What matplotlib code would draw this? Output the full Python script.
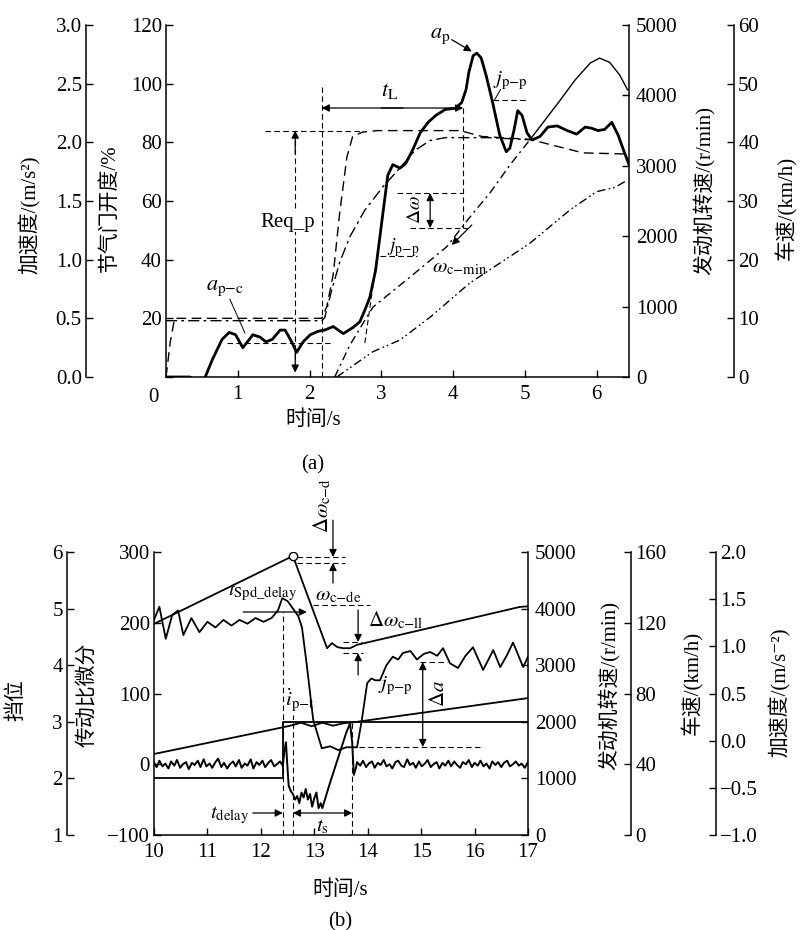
import numpy as np
import matplotlib.pyplot as plt

plt.rcParams['font.family'] = ['Liberation Serif', 'Noto Sans CJK SC', 'DejaVu Sans']
plt.rcParams['mathtext.fontset'] = 'stix'
plt.rcParams['axes.linewidth'] = 1.1

W, H = 801, 930

# ---------------- (a) launch ----------------
acc_a_t = [0.00, 0.33, 0.43, 0.54, 0.64, 0.78, 0.88, 0.97, 1.07, 1.16, 1.21, 1.31, 1.39, 1.48,
           1.59, 1.66, 1.75, 1.82, 1.91, 2.01, 2.12, 2.21, 2.33, 2.47, 2.60, 2.70, 2.77, 2.84,
           2.92, 3.01, 3.09, 3.16, 3.26, 3.34, 3.44, 3.54, 3.65, 3.76, 3.89, 4.03, 4.12, 4.18,
           4.22, 4.28, 4.33, 4.39, 4.46, 4.55, 4.65, 4.74, 4.79, 4.85, 4.90, 4.96, 5.03, 5.10,
           5.21, 5.32, 5.45, 5.59, 5.72, 5.84, 5.93, 6.02, 6.11, 6.21, 6.30, 6.37, 6.45]
acc_a = [0.00, 0.00, -0.03, -0.01, 0.14, 0.32, 0.38, 0.36, 0.25, 0.32, 0.36, 0.34, 0.30, 0.32,
         0.40, 0.40, 0.30, 0.21, 0.30, 0.36, 0.39, 0.40, 0.43, 0.37, 0.42, 0.47, 0.57, 0.68,
         0.91, 1.34, 1.72, 1.81, 1.78, 1.82, 1.94, 2.08, 2.17, 2.23, 2.28, 2.29, 2.34, 2.45,
         2.60, 2.74, 2.76, 2.72, 2.57, 2.34, 2.06, 1.92, 1.95, 2.11, 2.27, 2.23, 2.08, 2.02,
         2.05, 2.13, 2.14, 2.10, 2.07, 2.13, 2.12, 2.10, 2.11, 2.17, 2.06, 1.94, 1.81]

thr_t = [0.00, 0.06, 0.12, 2.17, 2.24, 2.33, 2.42, 2.52, 2.60, 2.74, 2.94, 4.10, 4.40, 5.07, 5.81, 6.45]
thr = [0, 12, 20, 20, 24, 35, 56, 75, 82, 83.5, 84, 84, 82, 81, 76.4, 76]

eng_a_t = [0.00, 2.17, 2.21, 2.31, 2.42, 2.56, 2.77, 3.02, 3.26, 3.47, 3.68, 3.89, 4.50, 5.07]
eng_a = [800, 800, 840, 1240, 1630, 1990, 2370, 2700, 2970, 3220, 3360, 3400, 3400, 3370]

clu_t = [2.35, 2.56, 2.88, 3.40, 3.91, 4.28, 4.51, 4.79, 5.07]
clu = [0, 450, 990, 1420, 1850, 2330, 2610, 3010, 3370]
syn_t = [5.07, 5.28, 5.49, 5.70, 5.91, 6.04, 6.18, 6.32, 6.43]
syn = [3370, 3650, 3930, 4220, 4460, 4530, 4470, 4290, 4080]

veh_a_t = [2.38, 2.88, 3.26, 3.68, 4.23, 5.07, 5.63, 6.00, 6.25, 6.42]
veh_a = [0, 4.3, 6.3, 10.2, 16.0, 22.8, 28.5, 31.6, 32.3, 33.5]

# ---------------- (b) upshift ----------------
eng_b_t = [10.0, 12.60, 13.24, 13.33, 13.43, 13.54, 13.67, 13.80, 16.85, 17.0]
eng_b = [3730, 4930, 3300, 3390, 3320, 3300, 3300, 3360, 4030, 4040]

veh_b_t = [10.0, 12.35, 12.55, 12.75, 12.95, 13.15, 13.35, 13.55, 13.75, 17.0]
veh_b = [45.8, 60.5, 61.8, 63.5, 61.5, 63.5, 61.8, 63.2, 63.8, 77.4]

gear_t = [10.0, 12.42, 12.42, 17.0]
gear = [2, 2, 3, 3]

acc_b_t = [10.00, 10.10, 10.22, 10.34, 10.45, 10.55, 10.70, 10.85, 11.00, 11.15, 11.30, 11.45,
           11.60, 11.75, 11.90, 12.05, 12.20, 12.32, 12.40, 12.50, 12.60, 12.70, 12.77, 12.86,
           12.98, 13.14, 13.30, 13.45, 13.60, 13.72, 13.80, 13.89, 13.99, 14.07, 14.14, 14.23,
           14.35, 14.47, 14.57, 14.66, 14.80, 14.92, 15.05, 15.17, 15.30, 15.41, 15.54, 15.69,
           15.83, 15.97, 16.16, 16.35, 16.48, 16.60, 16.72, 16.91, 17.00]
acc_b = [1.28, 1.42, 1.08, 1.33, 1.38, 1.12, 1.30, 1.15, 1.26, 1.20, 1.28, 1.22,
         1.28, 1.24, 1.30, 1.26, 1.30, 1.38, 1.51, 1.48, 1.40, 1.32, 1.20, 0.80,
         0.22, -0.08, -0.06, -0.10, -0.07, -0.07, -0.07, 0.22, 0.61, 0.66, 0.64, 0.64,
         0.80, 0.89, 0.86, 0.93, 0.95, 0.86, 0.92, 0.94, 0.90, 0.98, 0.82, 0.77,
         0.90, 0.99, 0.75, 0.96, 0.78, 0.90, 1.04, 0.78, 0.89]

rd_t = [10.00, 10.05, 10.10, 10.16, 10.21, 10.27, 10.32, 10.38, 10.43, 10.49, 10.54, 10.60,
        10.65, 10.71, 10.76, 10.82, 10.87, 10.93, 10.98, 11.04, 11.09, 11.15, 11.20, 11.26,
        11.31, 11.37, 11.42, 11.48, 11.53, 11.59, 11.64, 11.70, 11.75, 11.81, 11.86, 11.92,
        11.97, 12.03, 12.08, 12.14, 12.19, 12.25, 12.30, 12.36, 12.41,
        12.44, 12.47, 12.49, 12.52, 12.56, 12.60, 12.64, 12.68, 12.72, 12.76, 12.80, 12.84,
        12.88, 12.92, 12.96, 13.00, 13.04, 13.08, 13.12, 13.15, 13.30, 13.45, 13.60, 13.67,
        13.71, 13.74, 13.78,
        13.80, 13.86, 13.91, 13.97, 14.02, 14.08, 14.13, 14.19, 14.24, 14.30, 14.35, 14.41,
        14.46, 14.52, 14.57, 14.63, 14.68, 14.74, 14.79, 14.85, 14.90, 14.96, 15.01, 15.07,
        15.12, 15.18, 15.23, 15.29, 15.34, 15.40, 15.45, 15.51, 15.56, 15.62, 15.67, 15.73,
        15.78, 15.84, 15.89, 15.95, 16.00, 16.06, 16.11, 16.17, 16.22, 16.28, 16.33, 16.39,
        16.44, 16.50, 16.55, 16.61, 16.66, 16.72, 16.77, 16.83, 16.88, 16.94, 17.00]
rd = [2, -4, 5, -3, 1, -6, 4, -2, 6, -5, 0, 3,
      -7, 2, -1, 5, -4, 7, -3, 1, -5, 3, 8, -4,
      2, -6, 0, 4, -3, 6, -5, 1, -2, 7, -6, 3,
      -1, 5, -4, 2, 6, -3, 0, 4, -2,
      18, 31, 5, -30, -38, -42, -50, -45, -55, -40, -47, -35,
      -50, -42, -60, -48, -40, -62, -55, -62, -25, 10, 45, 58,
      30, -15, -5,
      3, -2, 5, -4, 1, 4, -5, 2, -1, 6, -3, 0,
      -6, 3, 5, -2, -4, 7, -1, 2, -5, 4, -3, 1,
      6, -4, 0, 3, -6, 2, -2, 5, -3, 4, -1, -5,
      3, 0, 6, -4, 2, -2, 5, -3, 1, -6, 4, -1,
      3, -4, 2, 5, -3, 0, 4, -2, 1, -5, 3]

FS = 15
K = 'k'
DASH = (5, 3)


def fig_text(px, py, s, **kw):
    fig.text(px / W, 1 - py / H, s, **kw)


def only_spine(ax, side, pos=None):
    for sp in ax.spines.values():
        sp.set_visible(False)
    ax.spines[side].set_visible(True)
    if pos is not None:
        ax.spines[side].set_position(('axes', pos))
    if side == 'left':
        ax.yaxis.tick_left()
    else:
        ax.yaxis.tick_right()
    ax.tick_params(axis='y', direction='in', length=5, width=1.0, labelsize=FS, pad=3)


def ref(ax, xs, ys, lw=0.8):
    ax.plot(xs, ys, color=K, lw=lw, dashes=DASH)


def arrow(ax, x0, y0, x1, y1, style='-|>', ls='-'):
    ax.annotate('', xy=(x1, y1), xytext=(x0, y0),
                arrowprops=dict(arrowstyle=style, color=K, lw=0.9, ls=ls,
                                mutation_scale=11, shrinkA=0, shrinkB=0))


fig = plt.figure(figsize=(W / 100, H / 100), dpi=100)

# ======================= (a) =======================
ax_a = fig.add_axes([166 / W, 1 - 377 / H, (629 - 166) / W, (377 - 25) / H])
ax_acc = ax_a.twinx()
ax_eng = ax_a.twinx()
ax_spd = ax_a.twinx()

ax_a.spines['top'].set_visible(False)
ax_a.spines['right'].set_visible(False)
ax_a.set_xlim(0, 6.45)
ax_a.set_ylim(0, 120)
ax_a.set_xticks([1, 2, 3, 4, 5, 6])
ax_a.set_yticks([0, 20, 40, 60, 80, 100, 120])
ax_a.set_yticklabels(['', '20', '40', '60', '80', '100', '120'])
ax_a.tick_params(direction='in', length=5, width=1.0, labelsize=FS, pad=3)
ax_a.tick_params(axis='x', pad=6)

only_spine(ax_acc, 'left', -80 / 463)
ax_acc.set_ylim(0, 3)
ax_acc.set_yticks([0, 0.5, 1.0, 1.5, 2.0, 2.5, 3.0])
ax_acc.set_yticklabels(['0.0', '0.5', '1.0', '1.5', '2.0', '2.5', '3.0'])

only_spine(ax_eng, 'right')
ax_eng.set_ylim(0, 5000)
ax_eng.set_yticks([0, 1000, 2000, 3000, 4000, 5000])
ax_eng.tick_params(axis='y', pad=5)

only_spine(ax_spd, 'right', (734 - 166) / 463)
ax_spd.set_ylim(0, 60)
ax_spd.set_yticks([0, 10, 20, 30, 40, 50, 60])

ax_a.plot(thr_t, thr, color=K, lw=1.0, dashes=(7, 4))
ax_acc.plot(acc_a_t, acc_a, color=K, lw=2.0)
ax_eng.plot(eng_a_t, eng_a, color=K, lw=1.0, dashes=(8, 3, 2, 3))
ax_eng.plot(clu_t, clu, color=K, lw=1.0, dashes=(6, 3, 1.5, 3))
ax_eng.plot(syn_t, syn, color=K, lw=1.0)
ax_spd.plot(veh_a_t, veh_a, color=K, lw=1.0, dashes=(6, 2.5, 1.2, 2, 1.2, 2.5))

# annotations (a), throttle coordinates
ref(ax_a, [2.17, 2.17], [0, 99])
arrow(ax_a, 3.3, 91.7, 2.17, 91.7)
arrow(ax_a, 3.0, 91.7, 4.14, 91.7)
ax_a.text(3.12, 94, r'$t_{\mathrm{L}}$', fontsize=16, ha='center', va='bottom')
ref(ax_a, [4.14, 4.14], [91.7, 50.8])
ref(ax_a, [1.80, 1.80], [3, 82])
arrow(ax_a, 1.80, 76, 1.80, 84)
arrow(ax_a, 1.80, 10, 1.80, 1.5)
ref(ax_a, [1.38, 2.75], [84, 84])
ax_a.text(1.70, 52.8, 'Req_p', fontsize=FS, ha='center', va='center',
          bbox=dict(fc='white', ec='none', pad=0.5), zorder=5)
ref(ax_a, [0.85, 2.28], [11.6, 11.6])
ax_a.text(0.82, 30.3, r'$a_{\mathrm{p{-}c}}$', fontsize=16, ha='center', va='center')
ax_a.plot([0.89, 1.10], [26.5, 15], color=K, lw=0.7)
ax_a.text(3.82, 116, r'$a_{\mathrm{p}}$', fontsize=16, ha='center', va='center')
arrow(ax_a, 3.98, 115, 4.26, 111)
ax_a.text(4.79, 101, r'$j_{\mathrm{p{-}p}}$', fontsize=15, ha='center', va='center')
ref(ax_a, [4.55, 5.03], [94.4, 94.4])
ax_a.plot([4.66, 4.58], [98, 94.6], color=K, lw=0.7)
ref(ax_a, [3.22, 4.14], [62.7, 62.7])
ref(ax_a, [3.40, 4.19], [50.8, 50.8])
ref(ax_a, [2.98, 3.50], [41.3, 41.3])
ref(ax_a, [2.77, 3.02], [11.6, 54.6])
arrow(ax_a, 3.68, 50.8, 3.68, 62.7, style='<|-|>')
ax_a.text(3.47, 57, r'$\Delta\omega$', fontsize=14, rotation=90, ha='center', va='center')
ax_a.text(3.30, 44.3, r'$j_{\mathrm{p{-}p}}$', fontsize=14, ha='center', va='center')
ax_a.text(4.09, 37.2, r'$\omega_{\mathrm{c{-}min}}$', fontsize=15, ha='center', va='center')
arrow(ax_a, 4.26, 51.8, 3.98, 45)

fig_text(153, 397, '0', fontsize=FS, ha='center', va='center')
fig_text(30, 215, '加速度/(m/s²)', fontsize=FS, rotation=90, ha='center', va='center')
fig_text(110, 208, '节气门开度/%', fontsize=FS, rotation=90, ha='center', va='center')
fig_text(705, 190, '发动机转速/(r/min)', fontsize=FS, rotation=90, ha='center', va='center')
fig_text(786, 208, '车速/(km/h)', fontsize=FS, rotation=90, ha='center', va='center')
fig_text(313, 420, '时间/s', fontsize=FS, ha='center', va='center')
fig_text(313, 465, '(a)', fontsize=FS, ha='center', va='center')

# ======================= (b) =======================
ax_b = fig.add_axes([154 / W, 1 - 835 / H, (528 - 154) / W, (835 - 552) / H])
ax_gear = ax_b.twinx()
ax_eng2 = ax_b.twinx()
ax_spd2 = ax_b.twinx()
ax_acc2 = ax_b.twinx()

ax_b.spines['top'].set_visible(False)
ax_b.spines['right'].set_visible(False)
ax_b.set_xlim(10, 17)
ax_b.set_ylim(-100, 300)
ax_b.set_xticks([10, 11, 12, 13, 14, 15, 16, 17])
ax_b.set_yticks([-100, 0, 100, 200, 300])
ax_b.tick_params(direction='in', length=5, width=1.0, labelsize=FS, pad=3)
ax_b.tick_params(axis='x', pad=6)

only_spine(ax_gear, 'left', (67 - 154) / 374)
ax_gear.set_ylim(1, 6)
ax_gear.set_yticks([1, 2, 3, 4, 5, 6])

only_spine(ax_eng2, 'right')
ax_eng2.set_ylim(0, 5000)
ax_eng2.set_yticks([0, 1000, 2000, 3000, 4000, 5000])
ax_eng2.tick_params(axis='y', pad=5)

only_spine(ax_spd2, 'right', (631 - 154) / 374)
ax_spd2.set_ylim(0, 160)
ax_spd2.set_yticks([0, 40, 80, 120, 160])

only_spine(ax_acc2, 'right', (716 - 154) / 374)
ax_acc2.set_ylim(-1, 2)
ax_acc2.set_yticks([-1.0, -0.5, 0.0, 0.5, 1.0, 1.5, 2.0])
ax_acc2.set_yticklabels(['\u22121.0', '\u22120.5', '0.0', '0.5', '1.0', '1.5', '2.0'])

ax_b.plot(rd_t, rd, color=K, lw=1.4)
ax_gear.plot(gear_t, gear, color=K, lw=1.3)
ax_eng2.plot(eng_b_t, eng_b, color=K, lw=1.3, marker='o', markevery=[1],
             markersize=6, mfc='white', mec=K, mew=1.0)
ax_spd2.plot(veh_b_t, veh_b, color=K, lw=1.3)
ax_acc2.plot(acc_b_t, acc_b, color=K, lw=1.3)

# annotations (b), ratio-derivative coordinates
ref(ax_b, [12.41, 12.41], [-100, 215])
ref(ax_b, [12.60, 12.60], [-100, 69.6])
ref(ax_b, [13.71, 13.71], [-100, 59.7])
ax_b.text(11.42, -71.7, r'$t_{\mathrm{delay}}$', fontsize=15, ha='center', va='center')
arrow(ax_b, 11.85, -68.9, 12.41, -68.9)
arrow(ax_b, 12.60, -68.9, 13.71, -68.9, style='<|-|>')
ax_b.text(13.16, -88.7, r'$t_{\mathrm{s}}$', fontsize=15, ha='center', va='center')
ax_b.text(11.38, 243.5, r'$t_{\mathrm{Spd\_delay}}$', fontsize=15, ha='left', va='center')
arrow(ax_b, 11.67, 215.2, 12.86, 215.2)
ref(ax_b, [12.68, 13.57], [292.9, 292.9])
ref(ax_b, [12.68, 13.57], [284.5, 284.5])
ax_b.annotate('', xy=(13.35, 292.9), xytext=(13.35, 345),
              arrowprops=dict(arrowstyle='-|>', color=K, lw=0.9, mutation_scale=11,
                              shrinkA=0, shrinkB=0), annotation_clip=False)
arrow(ax_b, 13.35, 256.2, 13.35, 284.5)
ax_b.text(13.16, 366, r'$\Delta\omega_{\mathrm{c{-}d}}$', fontsize=15, rotation=90,
          ha='center', va='center', clip_on=False)
ax_b.text(13.01, 238, r'$\omega_{\mathrm{c{-}de}}$', fontsize=15, ha='left', va='center')
ref(ax_b, [12.98, 14.04], [225.1, 225.1])
ax_b.text(14.01, 203.9, r'$\Delta\omega_{\mathrm{c{-}ll}}$', fontsize=15, ha='left', va='center')
arrow(ax_b, 13.82, 218, 13.82, 172.8)
ref(ax_b, [13.54, 13.89], [172.8, 172.8])
ref(ax_b, [13.54, 13.91], [157.2, 157.2])
arrow(ax_b, 13.82, 126.1, 13.82, 157.2)
ax_b.text(12.45, 90.8, r'$\dot{i}_{\mathrm{p{-}t}}$', fontsize=15, ha='left', va='center')
ax_b.text(14.19, 110.6, r'$j_{\mathrm{p{-}p}}$', fontsize=15, ha='left', va='center')
ref(ax_b, [14.98, 15.48], [144.5, 144.5])
ref(ax_b, [13.67, 16.16], [24.4, 24.4])
arrow(ax_b, 15.03, 24.4, 15.03, 144.5, style='<|-|>')
ax_b.text(15.35, 100.7, r'$\Delta a$', fontsize=15, rotation=90, ha='center', va='center')

fig_text(17, 700, '挡位', fontsize=FS, rotation=90, ha='center', va='center')
fig_text(87, 695, '传动比微分', fontsize=FS, rotation=90, ha='center', va='center')
fig_text(610, 685, '发动机转速/(r/min)', fontsize=FS, rotation=90, ha='center', va='center')
fig_text(692, 683, '车速/(km/h)', fontsize=FS, rotation=90, ha='center', va='center')
fig_text(780, 692, '加速度/(m/s\u207b²)', fontsize=FS, rotation=90, ha='center', va='center',
         family=['Liberation Serif', 'Noto Sans CJK SC', 'DejaVu Sans'])
fig_text(340, 890, '时间/s', fontsize=FS, ha='center', va='center')
fig_text(340, 922, '(b)', fontsize=FS, ha='center', va='center')

fig.savefig('out.png', dpi=100)
